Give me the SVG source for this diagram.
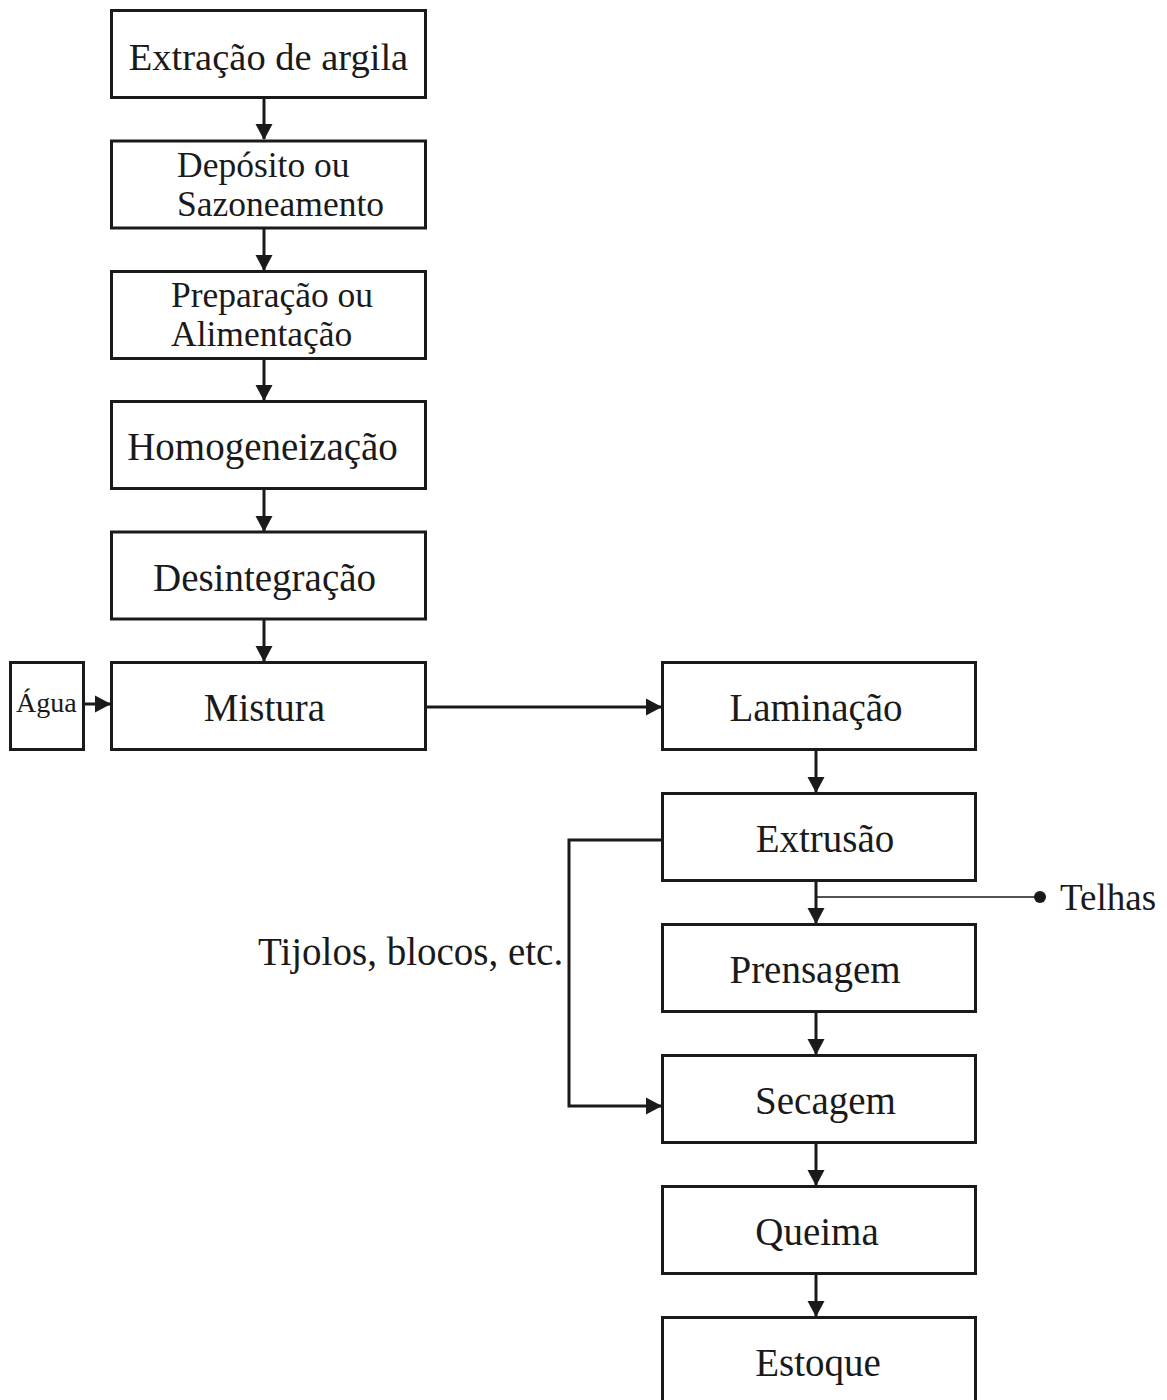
<svg xmlns="http://www.w3.org/2000/svg" width="1167" height="1400" viewBox="0 0 1167 1400">
<style>
.box{fill:#fff;stroke:#1a1a1a;stroke-width:3}
.t{font-family:"Liberation Serif","Times New Roman",serif;fill:#1a1a1a}
.c{stroke:#1a1a1a;stroke-width:3;fill:none}
.thin{stroke:#1a1a1a;stroke-width:1.6;fill:none}
</style>
<defs>
<marker id="ah" markerUnits="userSpaceOnUse" markerWidth="16" markerHeight="18" refX="15" refY="9" orient="auto">
<path d="M0,0.5 L16,9 L0,17.5 Z" fill="#1a1a1a"/>
</marker>
</defs>
<rect width="1167" height="1400" fill="#fff"/>
<g id="connectors">
<line class="c" x1="264" y1="97" x2="264" y2="139" marker-end="url(#ah)"/>
<line class="c" x1="264" y1="228" x2="264" y2="270" marker-end="url(#ah)"/>
<line class="c" x1="264" y1="358" x2="264" y2="400" marker-end="url(#ah)"/>
<line class="c" x1="264" y1="488" x2="264" y2="531" marker-end="url(#ah)"/>
<line class="c" x1="264" y1="619" x2="264" y2="661" marker-end="url(#ah)"/>
<line class="c" x1="84" y1="704" x2="110" y2="704" marker-end="url(#ah)"/>
<line class="c" x1="426" y1="707" x2="661" y2="707" marker-end="url(#ah)"/>
<line class="c" x1="816" y1="749" x2="816" y2="792" marker-end="url(#ah)"/>
<line class="c" x1="816" y1="880" x2="816" y2="923" marker-end="url(#ah)"/>
<line class="c" x1="816" y1="1011" x2="816" y2="1054" marker-end="url(#ah)"/>
<line class="c" x1="816" y1="1142" x2="816" y2="1185" marker-end="url(#ah)"/>
<line class="c" x1="816" y1="1273" x2="816" y2="1316" marker-end="url(#ah)"/>
<polyline class="c" points="662,840 569,840 569,1106 661,1106" marker-end="url(#ah)"/>
<line class="thin" x1="816" y1="897" x2="1040" y2="897"/>
<circle cx="1040" cy="897" r="6" fill="#1a1a1a"/>
</g>
<g id="n1"><rect class="box" x="111.5" y="10.5" width="314" height="87"/><text class="t" x="268.5" y="70" font-size="38.5" text-anchor="middle">Extração de argila</text></g>
<g id="n2"><rect class="box" x="111.5" y="141" width="314" height="87"/><text class="t" x="177" y="177" font-size="35.5">Depósito ou</text><text class="t" x="177" y="216" font-size="35.5">Sazoneamento</text></g>
<g id="n3"><rect class="box" x="111.5" y="271.5" width="314" height="87"/><text class="t" x="171" y="307" font-size="35.5">Preparação ou</text><text class="t" x="171" y="346" font-size="35.5">Alimentação</text></g>
<g id="n4"><rect class="box" x="111.5" y="401.5" width="314" height="87"/><text class="t" x="262.5" y="460" font-size="39" text-anchor="middle">Homogeneização</text></g>
<g id="n5"><rect class="box" x="111.5" y="532" width="314" height="87"/><text class="t" x="264.5" y="591" font-size="39" text-anchor="middle">Desintegração</text></g>
<g id="n6"><rect class="box" x="111.5" y="662.5" width="314" height="87"/><text class="t" x="264.5" y="721" font-size="39" text-anchor="middle">Mistura</text></g>
<g id="agua"><rect class="box" x="10.5" y="662.5" width="73" height="87"/><text class="t" x="16" y="712" font-size="28">Água</text></g>
<g id="n7"><rect class="box" x="662.5" y="662.5" width="313" height="87"/><text class="t" x="816" y="721" font-size="39" text-anchor="middle">Laminação</text></g>
<g id="n8"><rect class="box" x="662.5" y="793.5" width="313" height="87"/><text class="t" x="825" y="852" font-size="39" text-anchor="middle">Extrusão</text></g>
<g id="n9"><rect class="box" x="662.5" y="924.5" width="313" height="87"/><text class="t" x="815" y="983" font-size="39" text-anchor="middle">Prensagem</text></g>
<g id="n10"><rect class="box" x="662.5" y="1055.5" width="313" height="87"/><text class="t" x="825.5" y="1114" font-size="39" text-anchor="middle">Secagem</text></g>
<g id="n11"><rect class="box" x="662.5" y="1186.5" width="313" height="87"/><text class="t" x="817" y="1245" font-size="39" text-anchor="middle">Queima</text></g>
<g id="n12"><rect class="box" x="662.5" y="1317.5" width="313" height="87"/><text class="t" x="818" y="1376" font-size="39" text-anchor="middle">Estoque</text></g>
<g id="labels">
<text class="t" x="258" y="965" font-size="39">Tijolos, blocos, etc.</text>
<text class="t" x="1060" y="910" font-size="37">Telhas</text>
</g>
</svg>
